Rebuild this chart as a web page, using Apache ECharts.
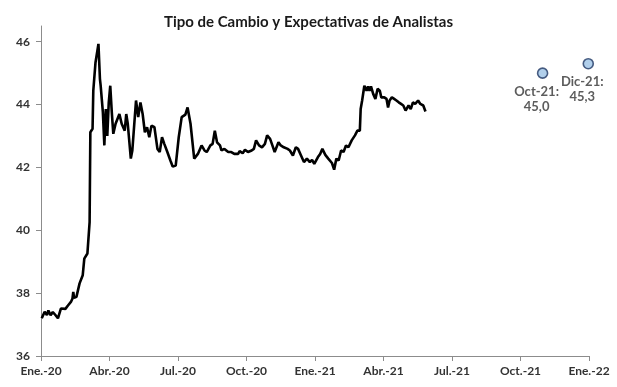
<!DOCTYPE html>
<html>
<head>
<meta charset="utf-8">
<script src="https://cdn.jsdelivr.net/npm/echarts@6/dist/echarts.min.js"></script>
<style>
html,body{margin:0;padding:0;background:#fff;}
#chart{width:617px;height:387px;}
</style>
</head>
<body>
<div id="chart"></div>
<script>
const titleText = "Tipo de Cambio y Expectativas de Analistas";
const tickLabels = ["Ene.-20","Abr.-20","Jul.-20","Oct.-20","Ene.-21","Abr.-21","Jul.-21","Oct.-21","Ene.-22"];
const yTicks = [36, 38, 40, 42, 44, 46];

const fxDates = [
"2020-01-02","2020-01-06","2020-01-09","2020-01-11","2020-01-14","2020-01-17","2020-01-20","2020-01-24","2020-01-28","2020-02-03",
"2020-02-06","2020-02-10","2020-02-12","2020-02-13","2020-02-14","2020-02-17","2020-02-21","2020-02-25","2020-02-27","2020-03-02",
"2020-03-05","2020-03-06","2020-03-09","2020-03-10","2020-03-13","2020-03-17","2020-03-19","2020-03-20","2020-03-23","2020-03-25",
"2020-03-27","2020-03-29","2020-03-31","2020-04-02","2020-04-04","2020-04-06","2020-04-09","2020-04-14","2020-04-17","2020-04-21",
"2020-04-23","2020-04-25","2020-04-29","2020-05-01","2020-05-03","2020-05-06","2020-05-09","2020-05-12","2020-05-15","2020-05-18",
"2020-05-21","2020-05-24","2020-05-27","2020-05-31","2020-06-04","2020-06-07","2020-06-10","2020-06-13","2020-06-15","2020-06-17",
"2020-06-21","2020-06-24","2020-06-28","2020-07-02","2020-07-06","2020-07-11","2020-07-14","2020-07-18","2020-07-23","2020-07-28",
"2020-08-02","2020-08-06","2020-08-09","2020-08-14","2020-08-17","2020-08-20","2020-08-23","2020-08-27","2020-08-29","2020-09-02",
"2020-09-07","2020-09-11","2020-09-15","2020-09-20","2020-09-22","2020-09-26","2020-09-29","2020-10-03","2020-10-08","2020-10-11",
"2020-10-14","2020-10-18","2020-10-22","2020-10-26","2020-10-29","2020-11-02","2020-11-05","2020-11-08","2020-11-13","2020-11-16",
"2020-11-20","2020-11-25","2020-11-28","2020-12-02","2020-12-06","2020-12-09","2020-12-13","2020-12-17","2020-12-21","2020-12-25",
"2020-12-28","2020-12-31","2021-01-05","2021-01-08","2021-01-11","2021-01-15","2021-01-19","2021-01-24","2021-01-27","2021-01-30",
"2021-02-02","2021-02-05","2021-02-08","2021-02-11","2021-02-14","2021-02-18","2021-02-22","2021-02-25","2021-02-28","2021-03-01",
"2021-03-03","2021-03-06","2021-03-09","2021-03-11","2021-03-13","2021-03-15","2021-03-18","2021-03-21","2021-03-24","2021-03-27",
"2021-03-29","2021-04-02","2021-04-05","2021-04-07","2021-04-09","2021-04-12","2021-04-15","2021-04-18","2021-04-21","2021-04-24",
"2021-04-27","2021-04-30","2021-05-04","2021-05-07","2021-05-10","2021-05-13","2021-05-17","2021-05-20","2021-05-24","2021-05-27"
];
const fxValues = [
37.20,37.41,37.30,37.45,37.30,37.40,37.32,37.20,37.51,37.50,
37.60,37.72,37.83,38.04,37.85,37.88,38.31,38.57,39.10,39.26,
40.26,43.12,43.23,44.44,45.34,45.93,44.82,44.60,43.76,42.70,
43.86,43.00,44.07,44.60,43.76,43.07,43.39,43.70,43.39,43.17,
43.70,43.39,42.28,42.54,42.50,44.13,43.60,44.07,43.70,43.12,
43.28,42.96,43.33,43.28,42.59,42.49,42.96,42.75,42.80,42.49,
42.22,42.03,42.06,42.96,43.60,43.68,43.91,43.39,42.28,42.43,
42.70,42.54,42.49,42.70,42.75,43.17,42.80,42.70,42.54,42.59,
42.49,42.49,42.43,42.43,42.52,42.45,42.56,42.49,42.54,42.59,
42.86,42.70,42.64,42.75,43.02,42.91,42.70,42.49,42.80,42.70,
42.64,42.59,42.54,42.38,42.64,42.59,42.38,42.17,42.28,42.17,
42.24,42.11,42.33,42.43,42.59,42.40,42.28,42.14,41.93,42.28,
42.22,42.54,42.49,42.70,42.64,42.86,43.02,43.17,43.17,43.86,
44.13,44.60,44.44,44.58,44.44,44.58,44.34,44.18,44.50,44.44,
44.23,44.23,44.18,43.91,44.13,44.23,44.18,44.13,44.07,44.02,
43.97,43.81,43.97,43.86,44.07,44.02,44.13,44.02,43.97,43.78
];

const expDates = ["2021-10-31", "2021-12-31"];
const expValues = [45.0, 45.3];
const expLabels = ["Oct-21:", "Dic-21:"];

function toMonthIndex(s) {
  const p = s.split('-').map(Number);
  const dim = new Date(p[0], p[1], 0).getDate();
  return (p[0] - 2020) * 12 + (p[1] - 1) + (p[2] - 1) / dim;
}

const fxData = fxDates.map((d, i) => [toMonthIndex(d), fxValues[i]]);
const expData = expDates.map((d, i) => ({
  value: [toMonthIndex(d), expValues[i]],
  name: expLabels[i]
}));

const FONT = 'Lato';
const TXT = '#333333';

const chart = echarts.init(document.getElementById('chart'), null, {renderer: 'canvas'});
chart.setOption({
  animation: false,
  backgroundColor: '#ffffff',
  title: {
    text: titleText,
    left: 'center',
    top: 10,
    textStyle: {fontFamily: FONT, fontSize: 15, fontWeight: 'bold', color: '#1a1a1a'}
  },
  grid: {left: 41, right: 28, top: 26, bottom: 31, containLabel: false},
  xAxis: {
    type: 'value',
    min: 0, max: 24, interval: 3,
    splitLine: {show: false},
    axisLine: {lineStyle: {color: '#8c8c8c', width: 1}},
    axisTick: {show: true, inside: false, length: 5, lineStyle: {color: '#8c8c8c'}},
    axisLabel: {
      margin: 9,
      fontFamily: FONT, fontSize: 12, fontWeight: 'bold', color: TXT,
      formatter: v => tickLabels[Math.round(v / 3)] || ''
    }
  },
  yAxis: {
    type: 'value',
    min: 36, max: 46.5,
    splitLine: {show: false},
    axisLine: {show: true, lineStyle: {color: '#8c8c8c', width: 1}},
    axisTick: {show: true, inside: false, length: 5, lineStyle: {color: '#8c8c8c'}, customValues: yTicks},
    axisLabel: {
      margin: 11,
      fontFamily: FONT, fontSize: 12, fontWeight: 'bold', color: TXT,
      customValues: yTicks
    }
  },
  series: [
    {
      type: 'line',
      data: fxData,
      showSymbol: false,
      symbol: 'none',
      lineStyle: {color: '#000000', width: 2.6},
      z: 2
    },
    {
      type: 'scatter',
      data: expData,
      symbol: 'circle',
      symbolSize: 10,
      itemStyle: {color: '#9dc3e6', borderColor: '#203864', borderWidth: 1.6},
      label: {
        show: true,
        position: 'bottom',
        distance: 5,
        offset: [-6, 0],
        align: 'center',
        lineHeight: 15,
        fontFamily: FONT, fontSize: 13, fontWeight: 'bold', color: TXT,
        formatter: p => p.name + '\n' + p.value[1].toFixed(1).replace('.', ',')
      },
      z: 3
    }
  ]
});
</script>
</body>
</html>
